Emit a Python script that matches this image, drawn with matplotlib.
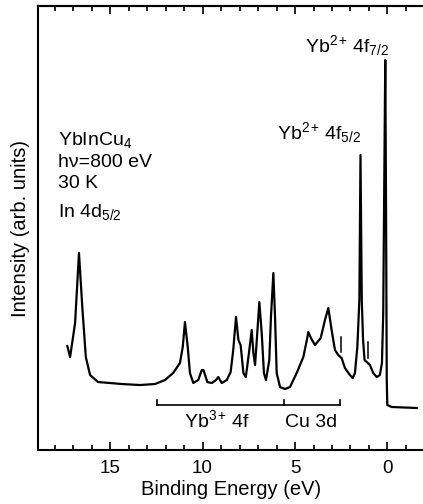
import numpy as np
import matplotlib
matplotlib.use('Agg')
import matplotlib.pyplot as plt
from matplotlib.ticker import MultipleLocator, NullFormatter

# spectrum (binding energy in eV, intensity in arb. units)
binding_energy = [
    17.31, 17.16, 16.89, 16.68, 16.50, 16.31, 16.08, 15.65, 15.00, 14.37,
    13.38, 12.57, 12.03, 11.59, 11.22, 11.07, 10.95, 10.80, 10.68, 10.50,
    10.23, 10.04, 9.95, 9.74, 9.50, 9.27, 9.15, 8.96, 8.69, 8.48,
    8.34, 8.19, 8.06, 7.94, 7.79, 7.66, 7.49, 7.34, 7.25, 7.16,
    7.04, 6.93, 6.80, 6.68, 6.57, 6.39, 6.30, 6.17, 6.08, 5.99,
    5.81, 5.54, 5.27, 4.91, 4.55, 4.36, 4.28, 4.14, 3.92, 3.61,
    3.38, 3.20, 3.02, 2.84, 2.66, 2.48, 2.30, 2.03, 1.88, 1.76,
    1.63, 1.52, 1.46, 1.39, 1.32, 1.24, 1.12, 0.95, 0.77, 0.58,
    0.41, 0.30, 0.23, 0.16, 0.12, 0.08, 0.04, 0.01, -0.23, -0.95,
    -1.58,
]
intensity = [
    104, 93, 127, 197, 143, 93, 75, 68, 67, 66,
    65, 66, 70, 77, 87, 103, 128, 103, 77, 67,
    70, 80, 80, 68, 67, 70, 73, 67, 70, 78,
    100, 133, 110, 105, 77, 73, 97, 120, 97, 85,
    117, 148, 117, 77, 70, 90, 133, 177, 133, 77,
    63, 61, 63, 77, 93, 110, 118, 112, 105, 112,
    130, 142, 120, 100, 95, 92, 82, 75, 72, 77,
    103, 150, 295, 150, 110, 90, 88, 85, 77, 73,
    75, 87, 137, 300, 390, 250, 70, 45, 43, 42.5,
    42,
]

# small vertical markers above the spectrum
marker_energy = [2.51, 1.07]
marker_low = [98, 92]
marker_high = [113, 108]

# bracket below the valence band
bracket_energy = [12.48, 5.59, 2.57]
bracket_level = 45
bracket_tick = 5

plt.rcParams['font.family'] = ['Liberation Sans', 'DejaVu Sans']
plt.rcParams['mathtext.fontset'] = 'custom'
plt.rcParams['mathtext.rm'] = 'Liberation Sans'
plt.rcParams['mathtext.it'] = 'Liberation Sans:italic'
plt.rcParams['mathtext.default'] = 'regular'

fig = plt.figure(figsize=(4.23, 5.04), dpi=100)
ax = fig.add_axes([0.0905, 0.1071, 0.9095, 0.881])

ax.plot(binding_energy, intensity, color='black', lw=1.6)

# markers
for e, lo, hi in zip(marker_energy, marker_low, marker_high):
    ax.plot([e, e], [lo, hi], color='black', lw=1.1)

# bracket
ax.plot([bracket_energy[0], bracket_energy[-1]], [bracket_level, bracket_level],
        color='black', lw=1.2)
for e in bracket_energy:
    ax.plot([e, e], [bracket_level, bracket_level + bracket_tick], color='black', lw=1.2)

fs = 14
ax.text(17.84, 305, 'YbInCu$_4$', fontsize=fs, va='baseline')
ax.text(17.84, 283, 'h\u03bd=800 eV', fontsize=fs, va='baseline')
ax.text(17.84, 262, '30 K', fontsize=fs, va='baseline')
ax.text(17.84, 233, 'In 4d$_{5/2}$', fontsize=fs, va='baseline')
ax.text(4.46, 398, 'Yb$^{2+}\\!$ 4f$_{7/2}$', fontsize=fs, va='baseline')
ax.text(5.96, 311, 'Yb$^{2+}\\!$ 4f$_{5/2}$', fontsize=fs, va='baseline')
ax.text(9.22, 23, 'Yb$^{3+}\\!$ 4f', fontsize=fs, va='baseline', ha='center')
ax.text(4.14, 23, 'Cu 3d', fontsize=fs, va='baseline', ha='center')

ax.set_xlim(18.88, -1.92)
ax.set_ylim(0, 444)

ax.xaxis.set_major_locator(MultipleLocator(5))
ax.xaxis.set_minor_locator(MultipleLocator(1))
ax.tick_params(axis='x', which='both', direction='in', width=1.2,
               labelsize=13.5, pad=7)
ax.tick_params(axis='x', which='major', length=6)
ax.tick_params(axis='x', which='minor', length=3.5)
ax.set_yticks([])

# ticks along the top edge
top = ax.secondary_xaxis('top')
top.xaxis.set_major_locator(MultipleLocator(5))
top.xaxis.set_minor_locator(MultipleLocator(1))
top.xaxis.set_major_formatter(NullFormatter())
top.tick_params(which='both', direction='in', width=1.2)
top.tick_params(which='major', length=6)
top.tick_params(which='minor', length=3.5)
top.spines['top'].set_linewidth(1.5)

for side in ['left', 'top', 'bottom']:
    ax.spines[side].set_linewidth(1.5)
ax.spines['right'].set_visible(False)

ax.set_xlabel('Binding Energy (eV)', fontsize=14.5, labelpad=2)
ax.set_ylabel('Intensity (arb. units)', fontsize=14.5, labelpad=6)

fig.savefig('out.png', dpi=100)
